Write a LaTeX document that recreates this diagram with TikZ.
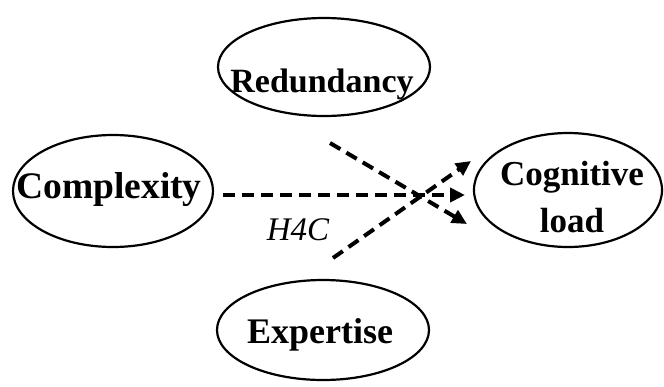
\documentclass[tikz,border=0pt]{standalone}
\usepackage{fontspec}
\setmainfont{Liberation Serif}
\usetikzlibrary{shapes.geometric,arrows.meta}
\tikzset{
  ell/.style={draw=black, line width=2.2pt, ellipse, inner sep=0pt},
  lbl/.style={font=\fontsize{35}{44}\selectfont\bfseries, inner sep=0pt, anchor=base, align=center},
  hyp/.style={font=\fontsize{33}{40}\selectfont\itshape, inner sep=0pt, anchor=base},
  dashln/.style={line width=4pt, dash pattern=on 12pt off 7pt, -{Triangle[length=15pt,width=14pt]}}
}
\begin{document}
\begin{tikzpicture}[x=1pt,y=-1pt]
\useasboundingbox (0,0) rectangle (664,386);
% ellipses
\node[ell, minimum width=212pt, minimum height=98pt] (red) at (324,67) {};
\node[ell, minimum width=200pt, minimum height=112pt] (cpx) at (113,191) {};
\node[ell, minimum width=212pt, minimum height=100pt] (exp) at (323,330) {};
\node[ell, minimum width=188pt, minimum height=114pt] (cog) at (568,190) {};
% labels
\node[lbl, font=\fontsize{34}{42}\selectfont\bfseries] (redt) at (322,92) {Redundancy};
\node[lbl, font=\fontsize{37.5}{46}\selectfont\bfseries] (cpxt) at (109,198) {Complexity};
\node[lbl, font=\fontsize{36}{44}\selectfont\bfseries] (expt) at (320,343) {Expertise};
\node[lbl] (cogt1) at (572,185) {Cognitive};
\node[lbl] (cogt2) at (572,232) {load};
\node[hyp] (h4c) at (298,240) {H4C};
% connector ends
\coordinate (rs) at (330,143);
\coordinate (re) at (467,224);
\coordinate (cs) at (223,195);
\coordinate (ce) at (465,195);
\coordinate (es) at (333,258);
\coordinate (ee) at (471,161);
\draw[dashln] (rs) -- (re);
\draw[dashln] (cs) -- (ce);
\draw[dashln] (es) -- (ee);
\end{tikzpicture}
\end{document}
